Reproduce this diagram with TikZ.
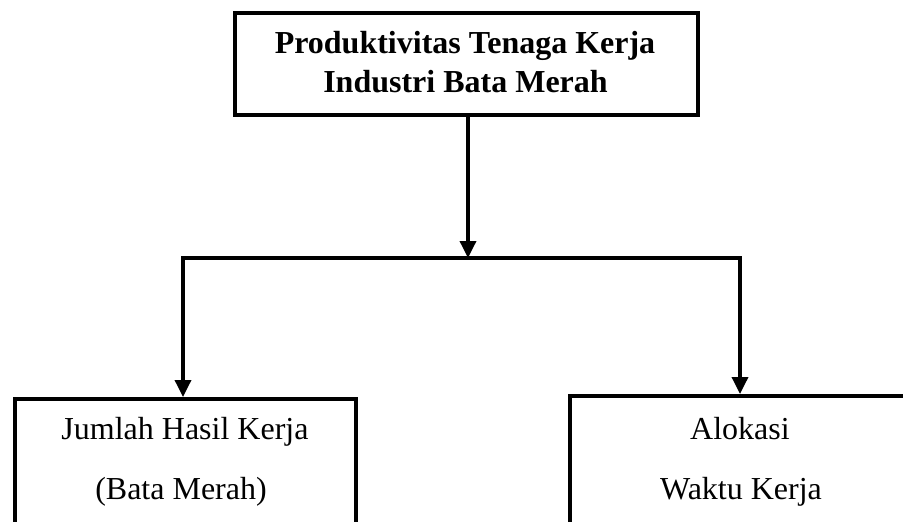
\documentclass[tikz,border=0pt]{standalone}
\usepackage{fontspec}
\setmainfont{Liberation Serif}
\usetikzlibrary{arrows.meta}
\begin{document}
\begin{tikzpicture}[x=1pt,y=-1pt,
  box/.style={draw, line width=4pt, inner sep=0pt},
  tip/.style={Triangle[length=17pt,width=16pt]},
  conn/.style={line width=3.5pt},
  arr/.style={conn, -{Triangle[length=17pt,width=16pt]}},
  bothways/.style={conn, {Triangle[length=17pt,width=16pt]}-{Triangle[length=17pt,width=16pt]}},
  lbl/.style={anchor=base, inner sep=0pt, font=\fontsize{32}{38}\selectfont},
  blbl/.style={lbl, font=\bfseries\fontsize{32}{38}\selectfont}]
\fill[white] (0,0) rectangle (903,522);
\clip (0,0) rectangle (903,522);
% boxes
\node[box, minimum width=463pt, minimum height=102pt] (top) at (466.5,64) {};
\node[box, minimum width=341pt, minimum height=161pt] (lbox) at (185.5,479.5) {};
\node[box, minimum width=340pt, minimum height=164pt] (rbox) at (740,478) {};
% texts
\node[blbl] (t1) at (465,53) {Produktivitas Tenaga Kerja};
\node[blbl] (t2) at (465.5,92) {Industri Bata Merah};
\node[lbl] (l1) at (185,439) {Jumlah Hasil Kerja};
\node[lbl] (l2) at (181,499) {(Bata Merah)};
\node[lbl] (r1) at (740,439) {Alokasi};
\node[lbl] (r2) at (741,499) {Waktu Kerja};
% connectors
\coordinate (j) at (468,258);
\coordinate (jl) at (183,258);
\coordinate (jr) at (740,258);
\draw[arr] (j |- top.south) -- (j);
\draw[bothways] (jl |- lbox.north) -- (jl) -- (jr) -- (jr |- rbox.north);
\end{tikzpicture}
\end{document}
